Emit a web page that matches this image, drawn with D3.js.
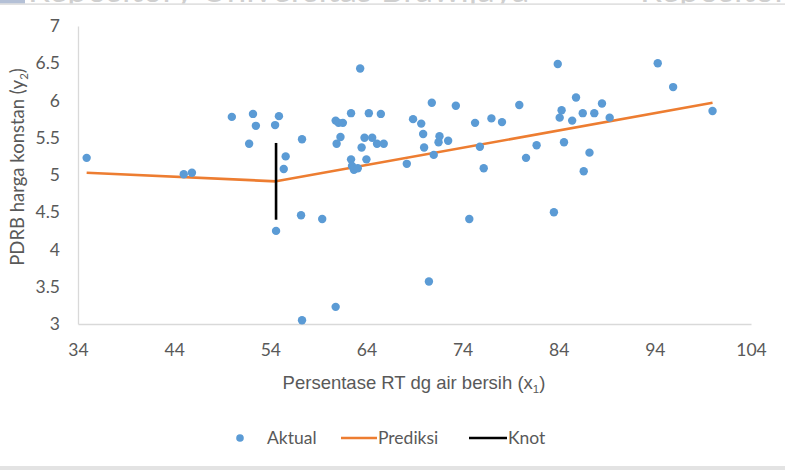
<!DOCTYPE html>
<html>
<head>
<meta charset="utf-8">
<script src="https://cdn.jsdelivr.net/npm/d3@7"></script>
<style>
  body { margin: 0; background: #fff; }
  svg { display: block; font-family: Lato, 'Noto Sans', sans-serif; }
</style>
</head>
<body>
<svg></svg>
<script>
// Aktual (x1, y2)
const aktualX = [34.9, 45.0, 45.85, 50.0, 51.8, 52.2, 52.5, 54.5, 54.6, 54.9, 55.4, 55.6, 57.2, 57.3, 57.3,
  59.4, 60.8, 60.8, 60.9, 61.1, 61.3, 61.55, 62.4, 62.4, 62.5, 62.7, 63.1, 63.35, 63.5, 63.8, 64.0, 64.25,
  64.6, 65.1, 65.5, 65.8, 68.2, 68.85, 69.7, 69.9, 70.0, 70.5, 70.8, 71.0, 71.5, 71.6, 72.5, 73.3, 74.7,
  75.3, 75.8, 76.2, 77.0, 78.1, 79.9, 80.6, 81.7, 83.5, 83.9, 84.1, 84.3, 84.55, 85.4, 85.8, 86.5, 86.6,
  87.2, 87.7, 88.5, 89.3, 94.3, 95.9, 100.0]
const aktualY = [5.23, 5.01, 5.03, 5.78, 5.42, 5.82, 5.66, 5.67, 4.25, 5.79, 5.08, 5.25, 4.46, 5.48, 3.05,
  4.41, 3.23, 5.73, 5.42, 5.70, 5.51, 5.70, 5.83, 5.21, 5.12, 5.07, 5.09, 6.43, 5.37, 5.50, 5.21, 5.83,
  5.50, 5.42, 5.82, 5.42, 5.15, 5.75, 5.69, 5.55, 5.37, 3.57, 5.97, 5.27, 5.44, 5.52, 5.46, 5.93, 4.41,
  5.70, 5.38, 5.09, 5.76, 5.71, 5.94, 5.23, 5.40, 4.50, 6.49, 5.77, 5.87, 5.44, 5.73, 6.04, 5.83, 5.05,
  5.30, 5.83, 5.96, 5.77, 6.50, 6.18, 5.86]

// Prediksi (piecewise line)
const prediksiX = [34.9, 54.6, 100.0]
const prediksiY = [5.03, 4.915, 5.97]

// Knot
const knotX = [54.6, 54.6]
const knotY = [4.40, 5.43]

const xTicks = [34, 44, 54, 64, 74, 84, 94, 104]
const yTicks = [3, 3.5, 4, 4.5, 5, 5.5, 6, 6.5, 7]

const width = 785
const height = 470
const textColor = '#595959'

const x = d3.scaleLinear()
  .domain([34, 104])
  .range([78, 751])

const y = d3.scaleLinear()
  .domain([3, 7])
  .range([324, 26])

const svg = d3.select('svg')
  .attr('width', width)
  .attr('height', height)

// watermark strip at the top (cut off in the source too)
function topStrip (g) {
  g.append('clipPath').attr('id', 'topclip')
    .append('rect').attr('x', 0).attr('y', 0).attr('width', width).attr('height', 3.5)
  g.append('g')
    .attr('clip-path', 'url(#topclip)')
    .call(g => g.selectAll('text')
      .data([28, 640])
      .enter().append('text')
      .attr('x', d => d)
      .attr('y', 2)
      .attr('font-size', 35)
      .attr('fill', '#cfcfcf')
      .text('Repository Universitas Brawijaya'))
  g.append('rect')
    .attr('x', 0).attr('y', 0).attr('width', 25).attr('height', 3.5)
    .attr('fill', '#b4c0d6')
  g.append('rect')
    .attr('x', 0).attr('y', 3.5).attr('width', width).attr('height', 1.2)
    .attr('fill', '#d4d4d4')
  // bottom border
  g.append('rect')
    .attr('x', 0).attr('y', 466).attr('width', width).attr('height', 4)
    .attr('fill', '#e3e3e3')
}

// label with a subscript, e.g. "(x1)"
function subLabel (t, before, sub, after) {
  t.append('tspan').text(before)
  t.append('tspan').attr('font-size', 11.5).attr('dy', 4).text(sub)
  t.append('tspan').attr('dy', -4).text(after)
}

function xAxis (g) {
  g
    .attr('transform', `translate(0,${y(3)})`)
    .call(d3.axisBottom(x).tickValues(xTicks).tickSize(0).tickPadding(20))
    .call(g => g.select('.domain').attr('stroke', '#d9d9d9').attr('stroke-width', 1.3))
    .call(g => g.selectAll('.tick text')
      .attr('fill', textColor)
      .attr('font-size', 17.5)
      .attr('font-family', 'Lato, sans-serif'))
  const t = g.append('text')
    .attr('x', 414)
    .attr('y', 65)
    .attr('fill', textColor)
    .attr('font-size', 18.5)
    .attr('text-anchor', 'middle')
  subLabel(t, 'Persentase RT dg air bersih (x', '1', ')')
}

function yAxis (g) {
  g
    .attr('transform', `translate(${x(34)},0)`)
    .call(d3.axisLeft(y).tickValues(yTicks).tickSize(0).tickPadding(18).tickFormat(d3.format('')))
    .call(g => g.select('.domain').attr('stroke', '#d9d9d9').attr('stroke-width', 1.3))
    .call(g => g.selectAll('.tick text')
      .attr('fill', textColor)
      .attr('font-size', 17.5)
      .attr('font-family', 'Lato, sans-serif'))
}

function yTitle (g) {
  const t = g.append('text')
    .attr('transform', 'translate(24,167) rotate(-90)')
    .attr('fill', textColor)
    .attr('font-size', 18.5)
    .attr('text-anchor', 'middle')
  subLabel(t, 'PDRB harga konstan (y', '2', ')')
}

function lines (g) {
  const line = d3.line()
    .x(d => x(d[0]))
    .y(d => y(d[1]))
  g.append('path')
    .datum(prediksiX.map((v, i) => [v, prediksiY[i]]))
    .attr('fill', 'none')
    .attr('stroke', '#ED7D31')
    .attr('stroke-width', 2.6)
    .attr('stroke-linejoin', 'round')
    .attr('d', line)
  g.append('path')
    .datum(knotX.map((v, i) => [v, knotY[i]]))
    .attr('fill', 'none')
    .attr('stroke', '#000')
    .attr('stroke-width', 2.6)
    .attr('d', line)
}

function dataPoints (g) {
  g
    .attr('fill', '#5B9BD5')
    .selectAll('circle')
    .data(aktualX.map((v, i) => [v, aktualY[i]]))
    .enter().append('circle')
    .attr('cx', d => x(d[0]))
    .attr('cy', d => y(d[1]))
    .attr('r', 4.2)
}

function legend (g) {
  const ly = 438
  g.append('circle').attr('cx', 240).attr('cy', ly).attr('r', 3.8).attr('fill', '#5B9BD5')
  g.append('line').attr('x1', 341).attr('x2', 377).attr('y1', ly).attr('y2', ly)
    .attr('stroke', '#ED7D31').attr('stroke-width', 2.6)
  g.append('line').attr('x1', 469).attr('x2', 507).attr('y1', ly).attr('y2', ly)
    .attr('stroke', '#000').attr('stroke-width', 2.6)
  g.selectAll('text')
    .data([['Aktual', 267], ['Prediksi', 378], ['Knot', 508]])
    .enter().append('text')
    .attr('x', d => d[1])
    .attr('y', ly + 6)
    .attr('fill', textColor)
    .attr('font-size', 17.5)
    .text(d => d[0])
}

svg.append('g').call(topStrip)
svg.append('g').call(xAxis)
svg.append('g').call(yAxis)
svg.append('g').call(yTitle)
svg.append('g').call(lines)
svg.append('g').call(dataPoints)
svg.append('g').call(legend)
</script>
</body>
</html>
